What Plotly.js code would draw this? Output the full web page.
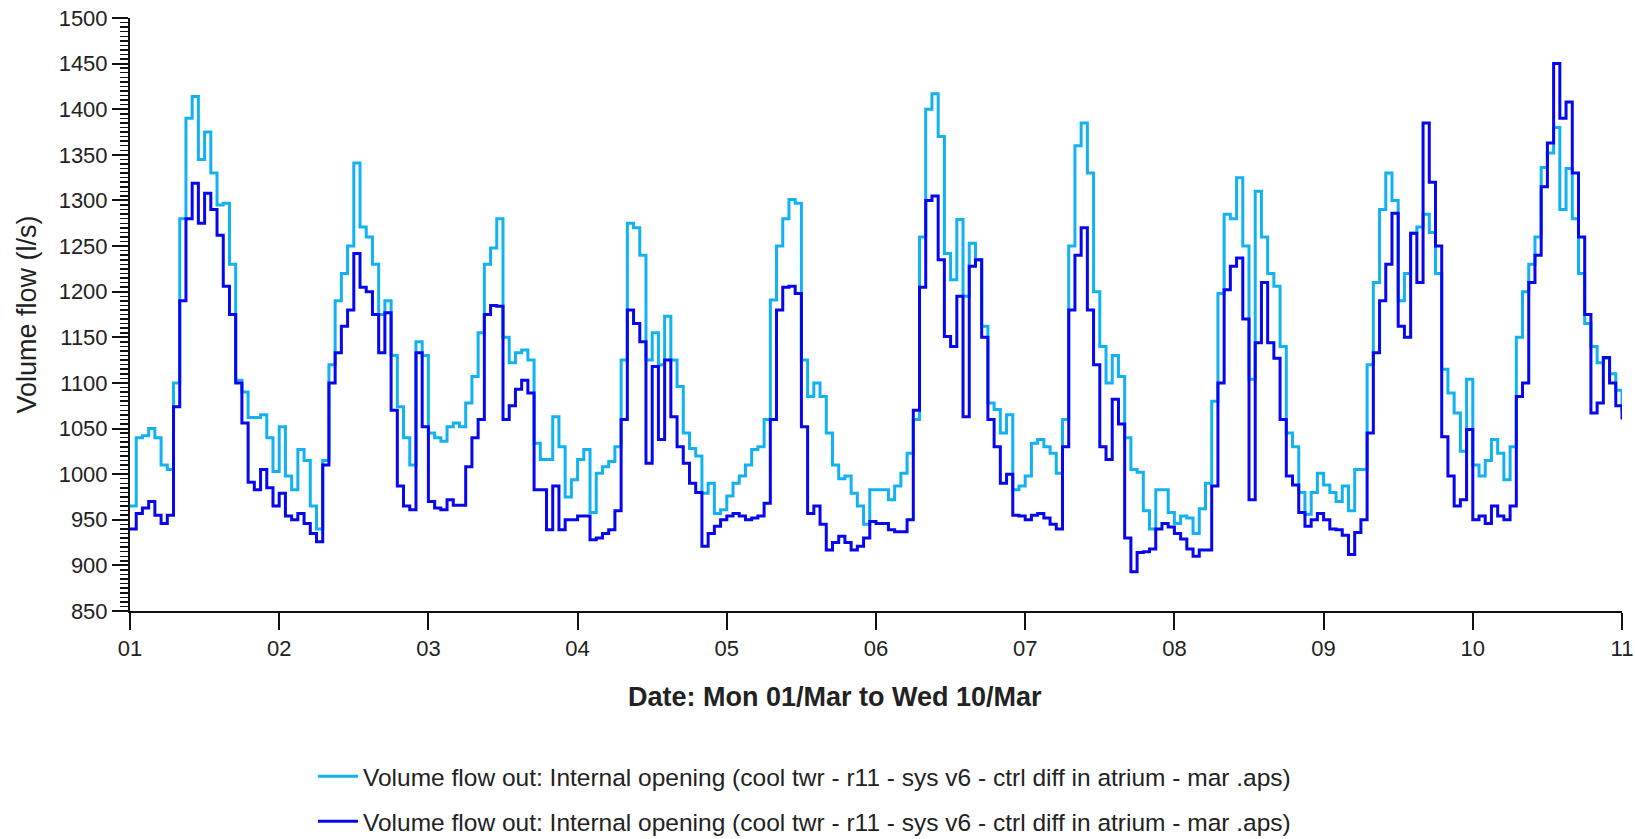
<!DOCTYPE html>
<html>
<head>
<meta charset="utf-8">
<script src="https://cdn.plot.ly/plotly-3.0.1.min.js"></script>
<style>
  html, body { margin: 0; padding: 0; background: #ffffff; }
  #chart { width: 1635px; height: 839px; }
</style>
</head>
<body>
<div id="chart"></div>
<script>
// Hourly samples, Mon 01/Mar 00:00 to Thu 11/Mar 00:00 (241 values)
const startDate = '2021-03-01';
const dayLabels = ['01', '02', '03', '04', '05', '06', '07', '08', '09', '10', '11'];
const xTitle = 'Date: Mon 01/Mar to Wed 10/Mar';
const yTitle = 'Volume flow (l/s)';

const seriesNames = [
  'Volume flow out: Internal opening (cool twr - r11 - sys v6 - ctrl diff in atrium - mar .aps)',
  'Volume flow out: Internal opening (cool twr - r11 - sys v6 - ctrl diff in atrium - mar .aps)'
];

// light blue series (l/s)
const flowLight = [
  965, 1040, 1042, 1050, 1040, 1010, 1005, 1100, 1280, 1390, 1414, 1345, 1375, 1330, 1295, 1297, 1230, 1103, 1090, 1062, 1062, 1065, 1040, 1003,
  1052, 998, 983, 1027, 1015, 965, 940, 1015, 1120, 1190, 1220, 1250, 1341, 1271, 1260, 1230, 1175, 1190, 1130, 1074, 1040, 1010, 1145, 1130,
  1045, 1040, 1036, 1052, 1056, 1052, 1078, 1107, 1155, 1230, 1248, 1280, 1150, 1122, 1133, 1136, 1125, 1034, 1016, 1016, 1063, 1030, 975, 994,
  1016, 1027, 958, 1001, 1008, 1014, 1030, 1125, 1275, 1270, 1240, 1125, 1155, 1120, 1173, 1125, 1096, 1045, 1028, 1020, 979, 990, 957, 961,
  976, 990, 998, 1010, 1027, 1030, 1060, 1191, 1250, 1280, 1301, 1297, 1125, 1085, 1100, 1085, 1045, 1010, 995, 998, 979, 965, 945, 983,
  983, 983, 972, 987, 1001, 1023, 1060, 1260, 1400, 1417, 1370, 1242, 1213, 1279, 1195, 1253, 1235, 1162, 1078, 1071, 1045, 1065, 983, 987,
  998, 1034, 1038, 1030, 1023, 1001, 1060, 1250, 1360, 1385, 1330, 1200, 1140, 1100, 1130, 1107, 1040, 1005, 1002, 960, 940, 983, 983, 958,
  946, 954, 952, 935, 962, 990, 1080, 1198, 1285, 1280, 1325, 1250, 1104, 1310, 1260, 1220, 1206, 1140, 1045, 1030, 980, 956, 980, 1001,
  988, 980, 970, 987, 960, 1005, 1005, 1120, 1210, 1290, 1330, 1300, 1190, 1220, 1264, 1271, 1285, 1265, 1220, 1115, 1089, 1067, 1025, 1104,
  1010, 998, 1015, 1038, 1023, 994, 1030, 1150, 1200, 1230, 1260, 1336, 1352, 1380, 1290, 1335, 1280, 1220, 1165, 1140, 1122, 1127, 1110, 1092, 1067
];

// dark blue series (l/s)
const flowDark = [
  940, 957, 963, 970, 955, 946, 955, 1074, 1190, 1280, 1319, 1275, 1308, 1290, 1262, 1206, 1175, 1100, 1056, 991, 983, 1005, 985, 965,
  979, 954, 950, 957, 946, 935, 926, 1010, 1100, 1133, 1162, 1180, 1242, 1205, 1200, 1175, 1133, 1177, 1070, 987, 965, 961, 1133, 1052,
  970, 963, 961, 972, 966, 966, 1008, 1040, 1060, 1175, 1185, 1184, 1060, 1075, 1093, 1103, 1089, 983, 983, 939, 987, 939, 950, 950,
  954, 954, 928, 930, 935, 939, 960, 1060, 1180, 1165, 1145, 1012, 1118, 1038, 1125, 1063, 1030, 1012, 990, 980, 921, 935, 943, 950,
  954, 957, 954, 950, 952, 954, 968, 1060, 1180, 1205, 1206, 1198, 1052, 957, 965, 945, 917, 925, 932, 925, 917, 921, 930, 948,
  946, 946, 939, 937, 937, 950, 1070, 1205, 1300, 1305, 1235, 1151, 1140, 1195, 1063, 1228, 1235, 1150, 1060, 1030, 990, 1000, 955, 954,
  950, 955, 957, 952, 945, 940, 1030, 1180, 1240, 1270, 1180, 1120, 1030, 1016, 1082, 1055, 930, 893, 914, 915, 918, 940, 946, 942,
  935, 929, 918, 910, 917, 917, 987, 1100, 1202, 1228, 1237, 1170, 972, 1144, 1210, 1144, 1127, 1060, 998, 988, 958, 943, 950, 957,
  950, 940, 939, 933, 912, 936, 950, 1045, 1133, 1190, 1230, 1286, 1162, 1150, 1264, 1210, 1385, 1320, 1250, 1041, 998, 965, 972, 1049,
  950, 954, 946, 965, 954, 950, 965, 1085, 1100, 1210, 1240, 1315, 1363, 1450, 1390, 1408, 1330, 1260, 1175, 1067, 1078, 1128, 1100, 1075, 1060
];

// hourly time stamps for the samples
const t0 = Date.parse(startDate + 'T00:00:00Z');
const fmt = (ms) => new Date(ms).toISOString().slice(0, 19).replace('T', ' ');
const times = flowLight.map((_, i) => fmt(t0 + i * 3600 * 1000));
const dayTicks = dayLabels.map((_, i) => fmt(t0 + i * 86400 * 1000));

const FONT = 'Liberation Sans, Arial, sans-serif';

const traces = [
  {
    x: times, y: flowLight, name: seriesNames[0], type: 'scatter', mode: 'lines',
    line: { color: '#12b2f2', width: 3, shape: 'hv' }, legendgroup: 'a'
  },
  {
    x: times, y: flowDark, name: seriesNames[1], type: 'scatter', mode: 'lines',
    line: { color: '#0606f0', width: 3, shape: 'hv' }, legendgroup: 'b'
  }
];

const layout = {
  width: 1635, height: 839,
  margin: { l: 130, r: 13, t: 18, b: 228, autoexpand: false },
  paper_bgcolor: '#ffffff', plot_bgcolor: '#ffffff',
  font: { family: FONT, color: '#222222', size: 20 },
  showlegend: true,
  hovermode: false,
  xaxis: {
    type: 'date',
    range: [dayTicks[0], dayTicks[dayTicks.length - 1]],
    tickmode: 'array', tickvals: dayTicks, ticktext: dayLabels,
    showline: true, linecolor: '#111', linewidth: 2, mirror: false,
    ticks: 'outside', ticklen: 17, tickwidth: 2, tickcolor: '#111',
    showgrid: false, zeroline: false,
    tickfont: { family: FONT, size: 22, color: '#222' },
    automargin: false
  },
  yaxis: {
    range: [850, 1500], tick0: 850, dtick: 50,
    showline: true, linecolor: '#111', linewidth: 2,
    ticks: 'outside', ticklen: 16, tickwidth: 2, tickcolor: '#111',
    minor: { dtick: 5, ticks: 'outside', ticklen: 8, tickwidth: 1.5, tickcolor: '#111', showgrid: false },
    showgrid: false, zeroline: false,
    tickfont: { family: FONT, size: 22, color: '#222' },
    title: { text: yTitle, font: { family: FONT, size: 27, color: '#222' }, standoff: 14 },
    automargin: false
  },
  annotations: [
    {
      text: xTitle, xref: 'paper', yref: 'paper',
      x: (835 - 130) / 1492, y: -(697 - 611) / 593,
      xanchor: 'center', yanchor: 'middle', showarrow: false,
      font: { family: FONT, size: 27, color: '#222', weight: 'bold' }
    }
  ],
  legend: {
    x: (313 - 130) / 1492, xanchor: 'left',
    y: -0.241, yanchor: 'top',
    orientation: 'v',
    font: { family: FONT, size: 24.5, color: '#222' },
    tracegroupgap: 10,
    itemwidth: 40,
    bgcolor: 'rgba(0,0,0,0)', borderwidth: 0
  }
};

Plotly.newPlot('chart', traces, layout, { displayModeBar: false, staticPlot: true });
</script>
</body>
</html>
